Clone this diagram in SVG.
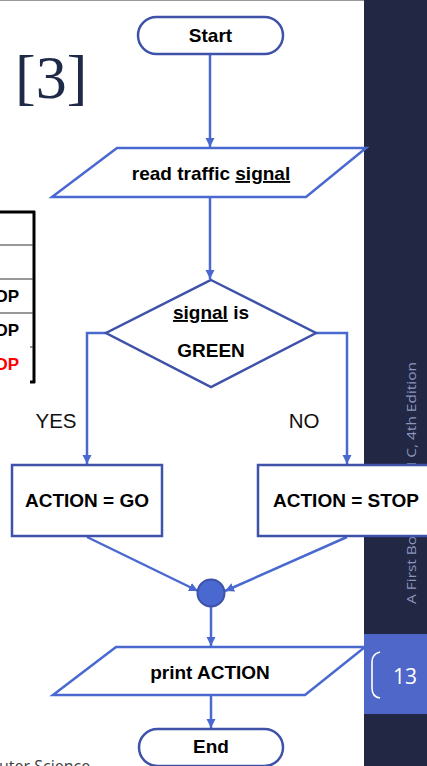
<svg xmlns="http://www.w3.org/2000/svg" width="427" height="766" viewBox="0 0 427 766">
<defs>
<style>
.node{fill:#fff;stroke:#3D52A8;stroke-width:2.5}
.io{fill:#fff;stroke:#4A69D0;stroke-width:2.5}
.conn{fill:none;stroke:#4A69D0;stroke-width:2.5}
.t{font-family:"Liberation Sans",Arial,sans-serif;font-weight:bold;font-size:19px;fill:#000;text-anchor:middle}
.lbl{font-family:"Liberation Sans",Arial,sans-serif;font-size:20.5px;fill:#111;text-anchor:middle}
.tbl{stroke:#000;stroke-width:3;fill:none}
.tbl2{stroke:#333;stroke-width:1.2;fill:none}
.op{font-family:"Liberation Sans",Arial,sans-serif;font-weight:bold;font-size:17px;text-anchor:end}
</style>
<marker id="ah" markerUnits="userSpaceOnUse" markerWidth="10" markerHeight="10" refX="9" refY="5" orient="auto">
<path d="M0,0.5 L9,5 L0,9.5 z" fill="#4A69D0"/>
</marker>
</defs>
<rect width="427" height="766" fill="#fff"/>
<line x1="0" y1="0.5" x2="364" y2="0.5" stroke="#999" stroke-width="1"/>

<!-- sidebar -->
<g id="sidebar">
<rect x="364" y="0" width="63" height="766" fill="#222744"/>
<text transform="translate(416,604) rotate(-90)" font-family="'Open Sans','Liberation Sans',sans-serif" font-size="13.5" fill="#8D96BE" textLength="242" lengthAdjust="spacingAndGlyphs">A First Book of ANSI C, 4th Edition</text>
<rect x="364" y="634" width="63" height="80" fill="#4F67C8"/>
<path d="M380,652 Q372,654 372,662 L372,688 Q372,697 380,698" fill="none" stroke="#fff" stroke-width="1.6"/>
<text x="405" y="684" font-family="'Open Sans','Liberation Sans',sans-serif" font-size="21" fill="#fff" text-anchor="middle">13</text>
</g>

<!-- title and table -->
<g id="title">
<text x="15" y="98" font-family="'Liberation Serif','Times New Roman',serif" font-size="62" fill="#1F2A48">[3]</text>
</g>
<g id="table">
<line class="tbl" x1="0" y1="212" x2="35" y2="212"/>
<line class="tbl" x1="34" y1="211" x2="34" y2="383"/>
<line class="tbl2" x1="0" y1="245" x2="33" y2="245"/>
<line class="tbl2" x1="0" y1="279" x2="33" y2="279"/>
<line class="tbl2" x1="0" y1="313" x2="33" y2="313"/>
<line x1="30" y1="347" x2="33" y2="347" stroke="#333" stroke-width="1"/>
<line x1="30" y1="382" x2="35" y2="382" stroke="#000" stroke-width="3"/>
<text class="op" x="19" y="302">OP</text>
<text class="op" x="19" y="336">OP</text>
<text class="op" x="19" y="370" fill="#FF0000">OP</text>
</g>
<text x="-1" y="772" font-family="'Open Sans','Liberation Sans',sans-serif" font-size="16" fill="#404040">uter Science</text>

<!-- connectors -->
<g id="connectors">
<line class="conn" x1="210" y1="55" x2="210" y2="147" marker-end="url(#ah)"/>
<line class="conn" x1="210" y1="197" x2="210" y2="279" marker-end="url(#ah)"/>
<polyline class="conn" points="106,333 87,333 87,464" marker-end="url(#ah)"/>
<polyline class="conn" points="316,333 347,333 347,464" marker-end="url(#ah)"/>
<line class="conn" x1="87" y1="537" x2="198" y2="591" marker-end="url(#ah)"/>
<line class="conn" x1="347" y1="537" x2="225" y2="591" marker-end="url(#ah)"/>
<line class="conn" x1="211" y1="607" x2="211" y2="646" marker-end="url(#ah)"/>
<line class="conn" x1="211" y1="695" x2="211" y2="728" marker-end="url(#ah)"/>
<text class="lbl" x="56" y="428">YES</text>
<text class="lbl" x="304" y="428">NO</text>
</g>

<!-- nodes -->
<g id="start">
<rect class="node" x="138" y="17" width="145" height="37" rx="18.5"/>
<text class="t" x="210.5" y="42">Start</text>
</g>
<g id="read">
<polygon class="io" points="117,148 366,148 306,197 52,197"/>
<text class="t" x="211" y="180">read traffic <tspan text-decoration="underline">signal</tspan></text>
</g>
<g id="decision">
<polygon class="node" points="211,280 316,333 211,387 106,333"/>
<text class="t" x="211" y="319"><tspan text-decoration="underline">signal</tspan> is</text>
<text class="t" x="211" y="357">GREEN</text>
</g>
<g id="go">
<rect class="node" x="12" y="465" width="150" height="71"/>
<text class="t" x="87" y="507">ACTION = GO</text>
</g>
<g id="stop">
<rect class="node" x="258" y="465" width="180" height="71"/>
<text class="t" x="346" y="507">ACTION = STOP</text>
</g>
<g id="join">
<circle cx="211" cy="593" r="13.5" fill="#4A69D0" stroke="#3D52A8" stroke-width="2"/>
</g>
<g id="print">
<polygon class="io" points="116,647 365,647 305,695 53,695"/>
<text class="t" x="210" y="679">print ACTION</text>
</g>
<g id="end">
<rect class="node" x="139" y="729" width="144" height="37" rx="18.5"/>
<text class="t" x="211" y="753">End</text>
</g>
</svg>
